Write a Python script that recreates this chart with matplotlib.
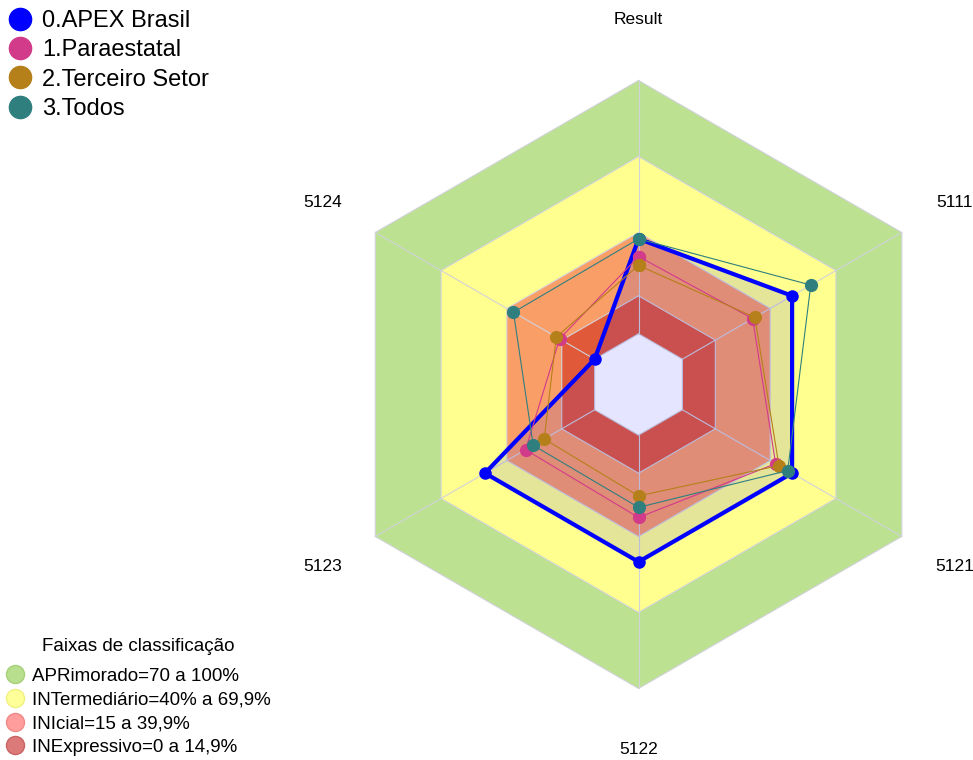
import numpy as np
import matplotlib
matplotlib.use("Agg")
import matplotlib.pyplot as plt
from matplotlib.lines import Line2D

plt.rcParams['font.family'] = ['Liberation Sans', 'DejaVu Sans']

# axes of the radar, clockwise from the top
categories = ["Result", "5111", "5121", "5122", "5123", "5124"]

# series values (percent)
apex_brasil = [37.5, 50, 50, 50, 50, 0]
paraestatal = [30.5, 32, 42.5, 32.5, 31.5, 16]
terceiro_setor = [27, 33, 44, 24, 23, 17.5]
todos = [37.5, 58.5, 48, 28.5, 28, 37]

series_names = ["0.APEX Brasil", "1.Paraestatal", "2.Terceiro Setor", "3.Todos"]
series_colors = ["#0000FF", "#D23A8A", "#B5801A", "#2F7F7F"]

# classification bands (upper limit of each band)
band_limits = [100, 70, 40, 15]
band_colors = ["#BBE191", "#FFFF8F", "#FA9E68", "#E05A3A"]
band_labels = ["APRimorado=70 a 100%", "INTermediário=40% a 69,9%",
               "INIcial=15 a 39,9%", "INExpressivo=0 a 14,9%"]
band_legend_colors = ["#B8DF8E", "#FFFF99", "#FF9C9C", "#DC7A7A"]
band_legend_edges = ["#A6D07A", "#F0F080", "#F08A8A", "#C86464"]

grid_levels = [0, 15, 40, 70, 100]


def closed(values):
    return list(values) + [values[0]]


theta = np.deg2rad(np.arange(0, 360, 360 / len(categories)))
theta_c = closed(list(theta))

fig = plt.figure(figsize=(9.73, 7.6), dpi=100)
ax = fig.add_axes([0.3438, 0.0941, 0.6249, 0.8], projection='polar')
ax.set_theta_zero_location('N')
ax.set_theta_direction(-1)
ax.set_ylim(-20, 100)
ax.set_facecolor('none')
ax.grid(False)
ax.set_xticks([])
ax.set_yticks([])
ax.spines['polar'].set_visible(False)

# bands
for lim, col in zip(band_limits, band_colors):
    ax.fill(theta_c, [lim] * len(theta_c), color=col, lw=0, zorder=1, clip_on=False)
ax.fill(theta_c, [0] * len(theta_c), color='white', lw=0, zorder=1)

# hexagonal grid and spokes
for lim in grid_levels:
    ax.plot(theta_c, [lim] * len(theta_c), color='#D2D2DA', lw=0.8, zorder=2, clip_on=False)
for t in theta:
    ax.plot([t, t], [0, 100], color='#D2D2DA', lw=0.8, zorder=2, clip_on=False)

# series
all_series = [apex_brasil, paraestatal, terceiro_setor, todos]
ax.fill(theta_c, closed(apex_brasil), color=series_colors[0], alpha=0.1, lw=0, zorder=3)
for i, (vals, col) in enumerate(zip(all_series, series_colors)):
    lw = 3.0 if i == 0 else 0.8
    ms = 8 if i == 0 else 8.5
    ax.plot(theta_c, closed(vals), color=col, lw=lw, marker='o', ms=ms,
            zorder=4 + i, clip_on=False)

# axis labels
for t, name in zip(theta, categories):
    ax.text(t, 124, name, ha='center', va='center', fontsize=12.5, clip_on=False)

# legends
series_handles = [Line2D([], [], ls='', marker='o', ms=16, color=c) for c in series_colors]
leg1 = fig.legend(series_handles, series_names, loc='upper left', bbox_to_anchor=(0.006, 0.99),
                  frameon=False, fontsize=17, handletextpad=0.44, labelspacing=0.31,
                  borderpad=0.1, borderaxespad=0.0, handlelength=1.0)

band_handles = [Line2D([], [], ls='', marker='o', ms=13, color=c, mec=e)
                for c, e in zip(band_legend_colors, band_legend_edges)]
leg2 = fig.legend(band_handles, band_labels, loc='lower left', bbox_to_anchor=(0.0, -0.002),
                  frameon=False, fontsize=13.5, title="Faixas de classificação",
                  title_fontsize=13.5, handletextpad=0.4, labelspacing=0.35,
                  borderpad=0.3, borderaxespad=0.0, handlelength=1.0)
# push the title a little above the entries
leg2.get_title().set_position((0, 6))

fig.savefig("out.png", dpi=100)
